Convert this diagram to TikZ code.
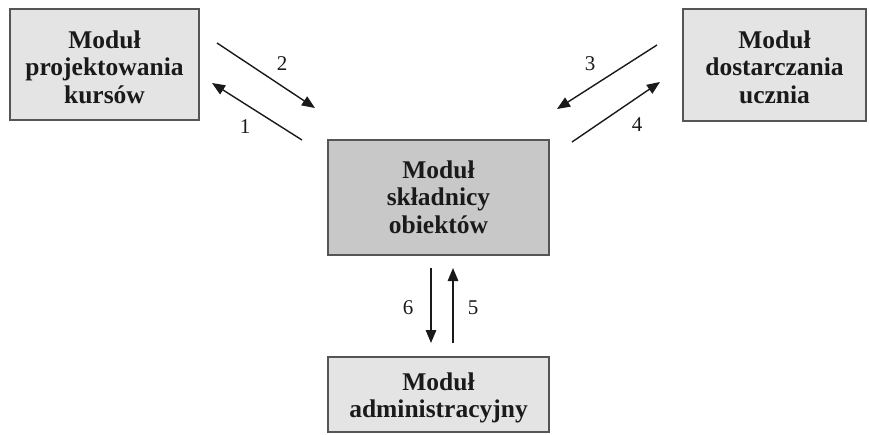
\documentclass[tikz,border=0pt]{standalone}
\usepackage{fontspec}
\setmainfont{Liberation Serif}
\usetikzlibrary{arrows.meta}
\definecolor{boxlight}{HTML}{E4E4E4}
\definecolor{boxdark}{HTML}{C8C8C8}
\definecolor{boxline}{HTML}{555555}
\definecolor{ink}{HTML}{1A1A1A}
\newcommand{\modtext}[2]{\raisebox{#1}[\height][\depth]{\begin{tabular}{@{}c@{}}#2\end{tabular}}}
\tikzset{
  modbox/.style={draw=boxline, line width=1.5pt, fill=boxlight,
    font=\bfseries\fontsize{25.5}{27.5}\selectfont, text=ink, inner sep=0pt},
  flow/.style={draw=ink, line width=1.4pt, -{Triangle[length=13pt,width=10.5pt]}},
  num/.style={font=\fontsize{21}{22}\selectfont, text=ink, inner sep=0pt}
}
\begin{document}
\begin{tikzpicture}[x=1pt,y=-1pt]
\useasboundingbox[fill=white] (0,0) rectangle (869,434);
\node[modbox, minimum width=189pt, minimum height=111pt] (proj) at (104.5,64.5)
  {\modtext{-5.5pt}{Moduł\\projektowania\\kursów}};
\node[modbox, minimum width=183pt, minimum height=112pt] (dost) at (774.5,65)
  {\modtext{-5pt}{Moduł\\dostarczania\\ucznia}};
\node[modbox, fill=boxdark, minimum width=221pt, minimum height=115pt] (skl) at (438.5,197.5)
  {\modtext{-2.5pt}{Moduł\\składnicy\\obiektów}};
\node[modbox, minimum width=221pt, minimum height=75pt] (adm) at (438.5,394.5)
  {\modtext{-3.75pt}{Moduł\\administracyjny}};
% arrow end points
\coordinate (a2s) at (217,43);  \coordinate (a2e) at (315,108);
\coordinate (a1s) at (302,140); \coordinate (a1e) at (212,83);
\coordinate (a3s) at (657,45);  \coordinate (a3e) at (557,109);
\coordinate (a4s) at (572,142); \coordinate (a4e) at (660,82);
\coordinate (a6s) at (431,268); \coordinate (a6e) at (431,343);
\coordinate (a5s) at (453,343); \coordinate (a5e) at (453,268);
\draw[flow] (a2s) -- (a2e);
\draw[flow] (a1s) -- (a1e);
\draw[flow] (a3s) -- (a3e);
\draw[flow] (a4s) -- (a4e);
\draw[flow] (a6s) -- (a6e);
\draw[flow] (a5s) -- (a5e);
\node[num] (n2) at (282,64) {2};
\node[num] (n1) at (245,127) {1};
\node[num] (n3) at (590,64) {3};
\node[num] (n4) at (637,125) {4};
\node[num] (n6) at (408,308) {6};
\node[num] (n5) at (473,308) {5};
\end{tikzpicture}
\end{document}
